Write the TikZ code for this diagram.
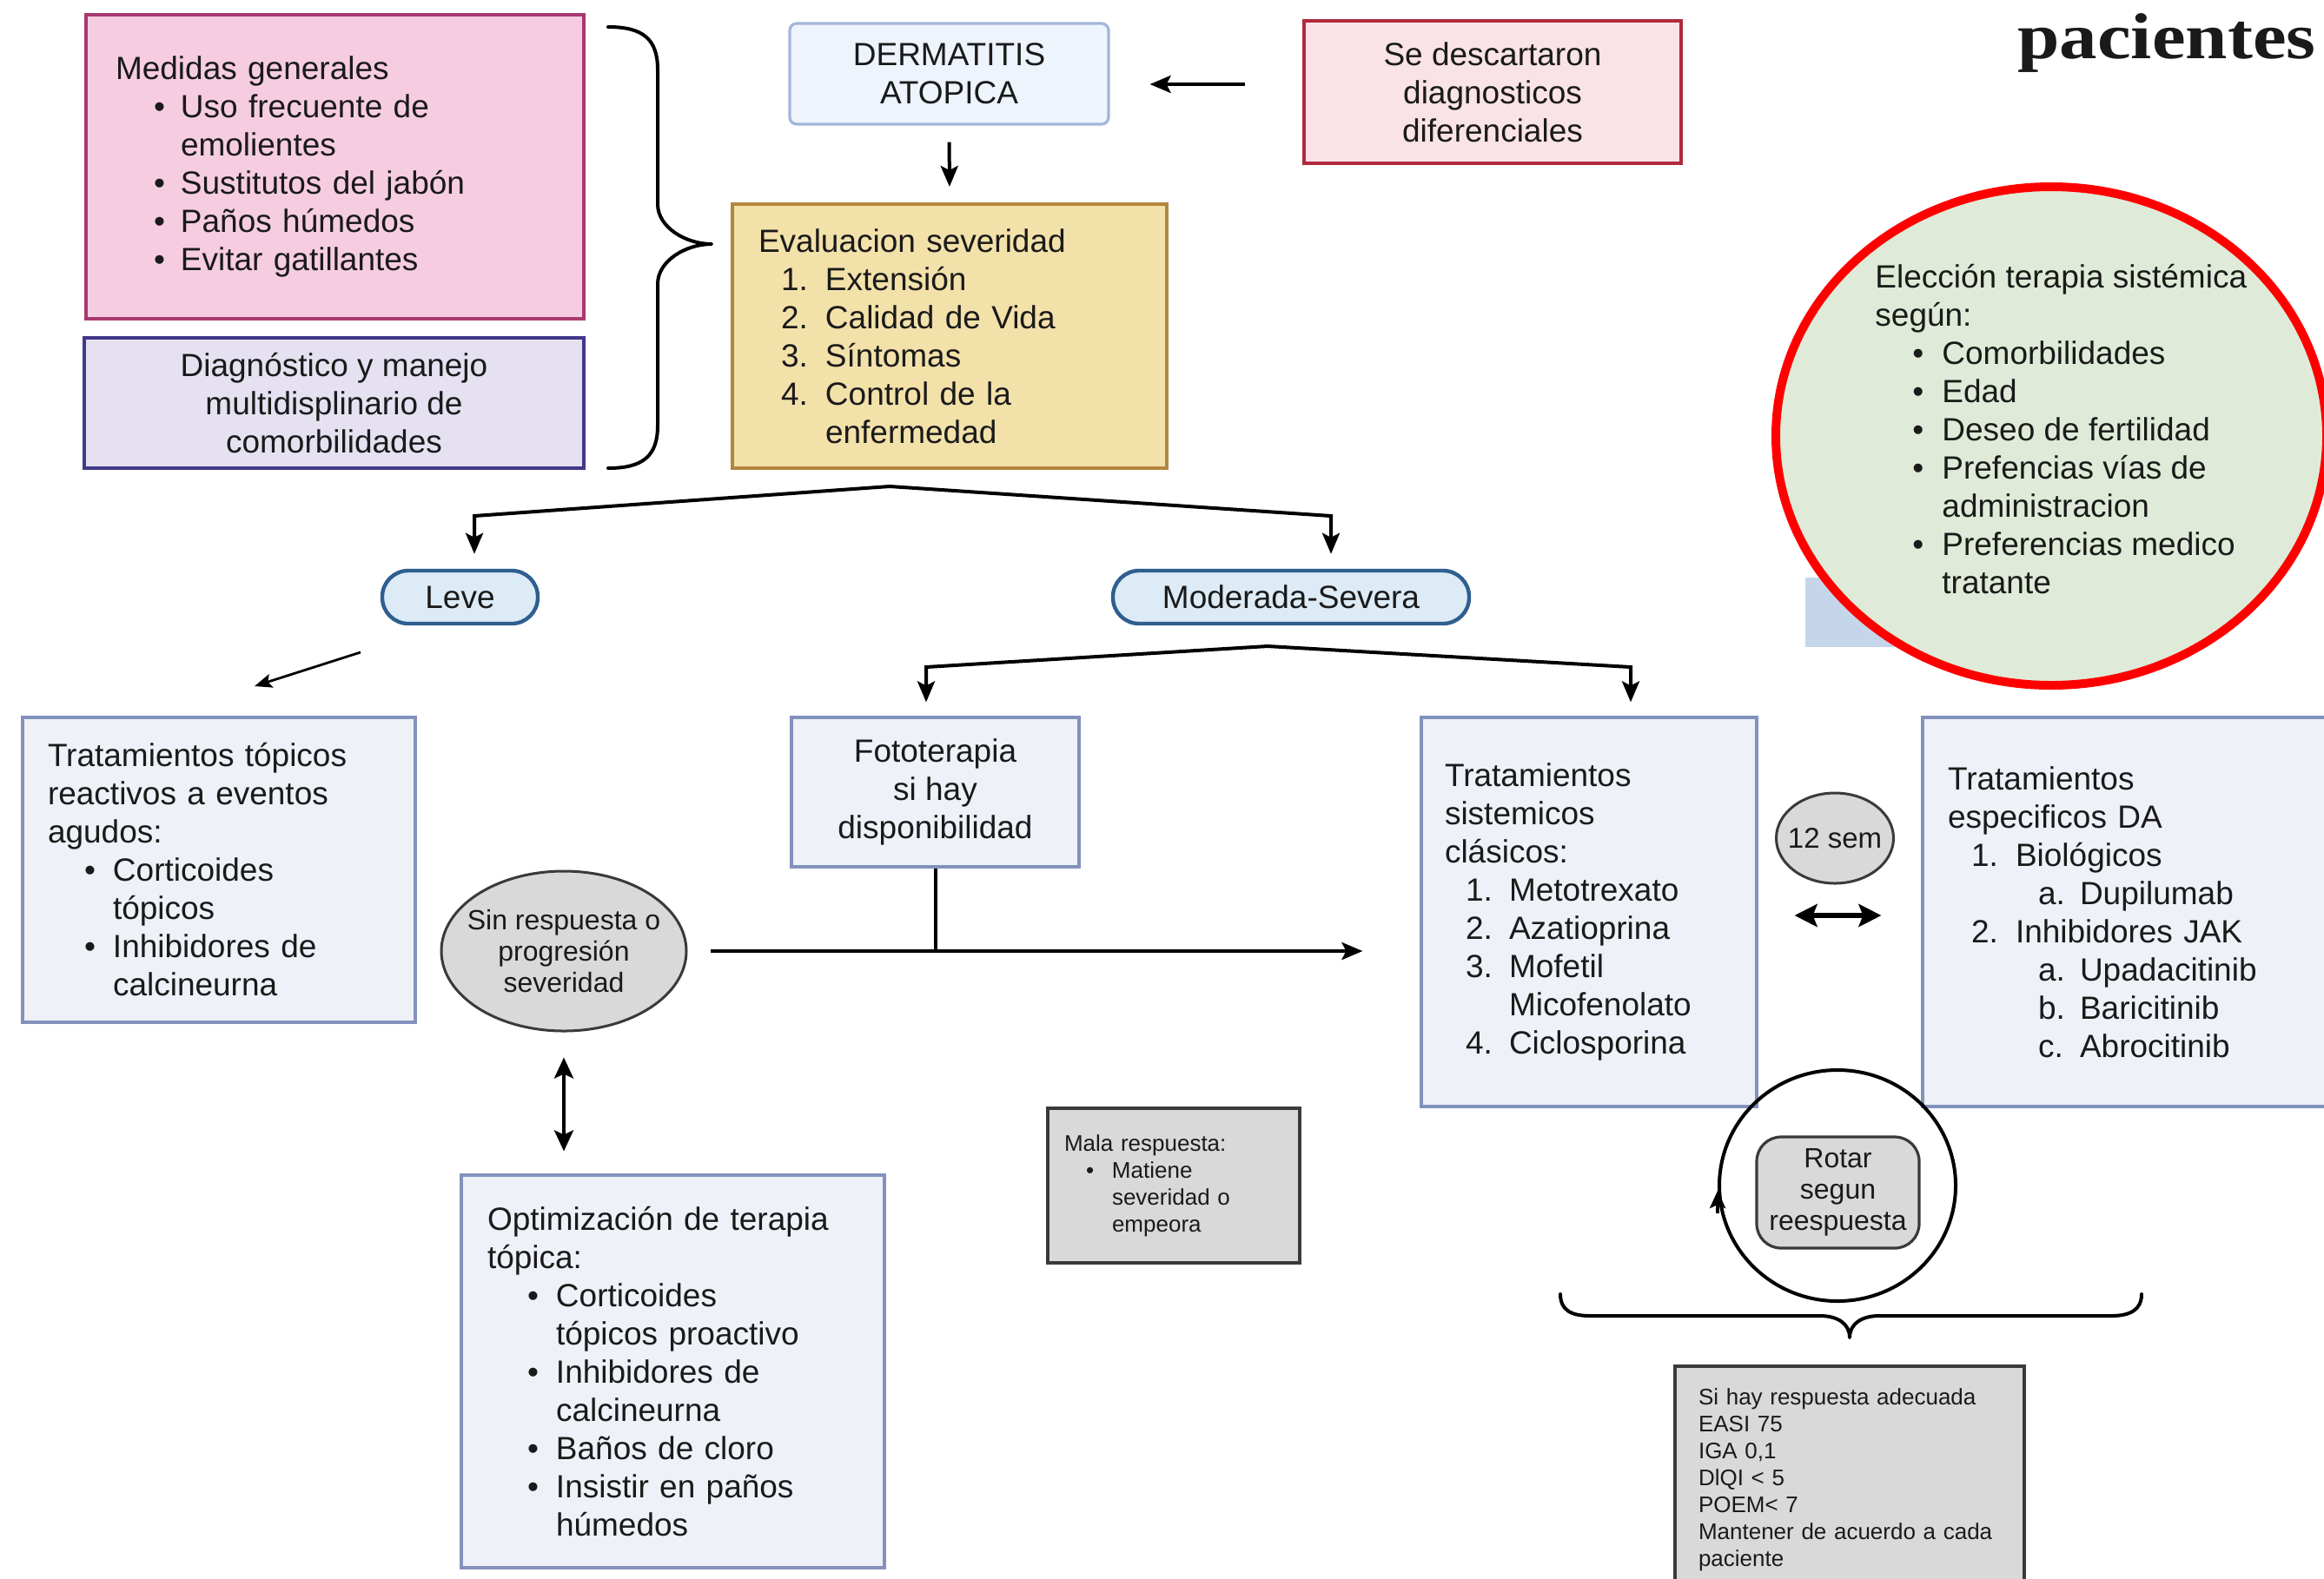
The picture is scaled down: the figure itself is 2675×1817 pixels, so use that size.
\documentclass[tikz,border=0pt]{standalone}
\usepackage{fontspec}
\setmainfont{Liberation Sans}
\newfontfamily\serifb{Liberation Serif}
\usetikzlibrary{arrows.meta,shapes.geometric}
\definecolor{txtc}{HTML}{1A1A1A}
\definecolor{pinkf}{HTML}{F6CDE0}
\definecolor{pinkd}{HTML}{A8396E}
\definecolor{lavf}{HTML}{E5E1F1}
\definecolor{lavd}{HTML}{40388A}
\definecolor{dermf}{HTML}{EEF4FB}
\definecolor{dermd}{HTML}{A3B6DA}
\definecolor{sedf}{HTML}{F9E3E6}
\definecolor{sedd}{HTML}{B02A3C}
\definecolor{evf}{HTML}{F3E1AA}
\definecolor{evd}{HTML}{B3863E}
\definecolor{pillf}{HTML}{DDEBF7}
\definecolor{pilld}{HTML}{2F5F8F}
\definecolor{bbf}{HTML}{EEF1F7}
\definecolor{bbd}{HTML}{8391BD}
\definecolor{grayf}{HTML}{D9D9D9}
\definecolor{grayd}{HTML}{3A3A3A}
\definecolor{greenf}{HTML}{DFEBD8}
\definecolor{hidc}{HTML}{C6D6EA}
\newcommand\itm[3]{\hspace*{#1}\makebox[#2][l]{#3}}
\begin{document}
\begin{tikzpicture}[x=0.5pt,y=-0.5pt,
  every node/.append style={font=\fontsize{18.5}{22}\selectfont, text=txtc},
  box/.style={draw, rectangle, line width=1.6pt, inner sep=0pt},
  bbox/.style={box, fill=bbf, draw=bbd},
  gbox/.style={box, fill=grayf, draw=grayd, line width=2pt},
  pill/.style={draw=pilld, fill=pillf, line width=2.2pt, rounded corners=15pt, minimum height=30.5pt, inner sep=0pt},
  ln/.style={draw=black, line width=2pt},
  arr/.style={ln, -{Stealth[length=12pt,width=10pt,inset=2.5pt]}},
  darr/.style={ln, {Stealth[length=12pt,width=11pt,inset=2.5pt]}-{Stealth[length=12pt,width=11pt,inset=2.5pt]}},
  brc/.style={draw=black, line width=2pt, line cap=round, line join=round}
]
\useasboundingbox (0,0) rectangle (2675,1817);
\clip (0,0) rectangle (2675,1817);
\fill[white] (0,0) rectangle (2675,1817);

% title fragment
\node[anchor=base west, inner sep=0pt, font=\serifb\bfseries\fontsize{43.5}{50}\selectfont] (pac) at (2322,67) {\scalebox{1}[0.86]{pacientes}};

% hidden box behind ellipse
\fill[hidc] (2078,665) rectangle (2420,745);

% eleccion ellipse
\node[ellipse, draw=red, fill=greenf, line width=5pt, minimum width=317pt, minimum height=287pt, inner sep=0pt] (elec) at (2361,502) {};
\node[anchor=west, align=left, inner sep=0pt] (electxt) at (2158,494) {Elección terapia sistémica\\según:\\
\itm{21.5pt}{17pt}{\textbullet}Comorbilidades\\
\itm{21.5pt}{17pt}{\textbullet}Edad\\
\itm{21.5pt}{17pt}{\textbullet}Deseo de fertilidad\\
\itm{21.5pt}{17pt}{\textbullet}Prefencias vías de\\
\hspace*{38.5pt}administracion\\
\itm{21.5pt}{17pt}{\textbullet}Preferencias medico\\
\hspace*{38.5pt}tratante};

% top-left boxes
\node[box, fill=pinkf, draw=pinkd, minimum width=286.5pt, minimum height=175pt, text width=252.5pt, align=left] (med) at (385.5,192) {Medidas generales\\
\itm{22pt}{15.5pt}{\textbullet}Uso frecuente de\\
\hspace*{37.5pt}emolientes\\
\itm{22pt}{15.5pt}{\textbullet}Sustitutos del jabón\\
\itm{22pt}{15.5pt}{\textbullet}Paños húmedos\\
\itm{22pt}{15.5pt}{\textbullet}Evitar gatillantes};
\node[box, fill=lavf, draw=lavd, line width=2pt, minimum width=287.5pt, minimum height=75pt, align=center] (diag) at (384.5,464) {Diagnóstico y manejo\\multidisplinario de\\comorbilidades};

% brace
\draw[brc] (700,31) .. controls (740,31) and (757,45) .. (757,80) -- (757,235)
  .. controls (757,262) and (790,281) .. (819,281)
  .. controls (790,281) and (757,300) .. (757,327) -- (757,490)
  .. controls (757,525) and (740,539) .. (700,539);

\node[box, rounded corners=4pt, fill=dermf, draw=dermd, minimum width=183.5pt, minimum height=58pt, align=center] (derm) at (1092.5,85) {DERMATITIS\\ATOPICA};
\node[box, fill=sedf, draw=sedd, line width=2.2pt, minimum width=217pt, minimum height=82pt, align=center] (sed) at (1718,106) {Se descartaron\\diagnosticos\\diferenciales};
\node[box, fill=evf, draw=evd, line width=2pt, minimum width=250pt, minimum height=152pt, text width=220pt, align=left] (eval) at (1093,387) {Evaluacion severidad\\
\itm{13pt}{25.5pt}{1.}Extensión\\
\itm{13pt}{25.5pt}{2.}Calidad de Vida\\
\itm{13pt}{25.5pt}{3.}Síntomas\\
\itm{13pt}{25.5pt}{4.}Control de la\\
\hspace*{38.5pt}enfermedad};

\coordinate (c1) at (1433,97);
\draw[arr, shorten >=23pt] (c1) -- (c1 -| derm.east);
\draw[arr, shorten <=9.5pt, shorten >=9pt] (derm.south) -- (eval.north);

\node[pill, minimum width=89.5pt] (leve) at (529.5,687.5) {Leve};
\node[pill, minimum width=205pt] (mod) at (1486,687.5) {Moderada-Severa};

\coordinate (ap1) at (1024,560);
\coordinate (bl1) at (546,594);
\coordinate (br1) at (1532,594);
\draw[arr, shorten >=8.5pt] (ap1) -- (bl1) -- (bl1 |- leve.north);
\draw[arr, shorten >=8.5pt] (ap1) -- (br1) -- (br1 |- mod.north);

\coordinate (la1) at (415,751);
\coordinate (la2) at (293,790);
\draw[line width=1.4pt, -{Stealth[length=10pt,width=8pt,inset=2pt]}] (la1) -- (la2);

\node[bbox, minimum width=226pt, minimum height=175.5pt, text width=197pt, align=left] (ttop) at (252,1001.5) {Tratamientos tópicos\\reactivos a eventos\\agudos:\\
\itm{21pt}{16.5pt}{\textbullet}Corticoides\\
\hspace*{37.5pt}tópicos\\
\itm{21pt}{16.5pt}{\textbullet}Inhibidores de\\
\hspace*{37.5pt}calcineurna};

\node[bbox, minimum width=165.5pt, minimum height=86pt, align=center] (foto) at (1076.5,912) {Fototerapia\\si hay\\disponibilidad};

\node[bbox, minimum width=193pt, minimum height=224pt, text width=166pt, align=left] (sist) at (1829,1050) {Tratamientos\\sistemicos\\clásicos:\\
\itm{12pt}{25pt}{1.}Metotrexato\\
\itm{12pt}{25pt}{2.}Azatioprina\\
\itm{12pt}{25pt}{3.}Mofetil\\
\hspace*{37pt}Micofenolato\\
\itm{12pt}{25pt}{4.}Ciclosporina};

\node[bbox, minimum width=243.5pt, minimum height=224pt, text width=214.5pt, align=left] (esp) at (2456.5,1050) {Tratamientos\\especificos DA\\
\itm{13.5pt}{25.5pt}{1.}Biológicos\\
\itm{52pt}{24pt}{a.}Dupilumab\\
\itm{13.5pt}{25.5pt}{2.}Inhibidores JAK\\
\itm{52pt}{24pt}{a.}Upadacitinib\\
\itm{52pt}{24pt}{b.}Baricitinib\\
\itm{52pt}{24pt}{c.}Abrocitinib};

\coordinate (ap2) at (1459,744);
\coordinate (bl2) at (1066,768);
\coordinate (br2) at (1877,768);
\draw[arr, shorten >=8pt] (ap2) -- (bl2) -- (bl2 |- foto.north);
\draw[arr, shorten >=8pt] (ap2) -- (br2) -- (br2 |- sist.north);

\node[ellipse, draw=grayd, fill=grayf, line width=1.5pt, minimum width=141pt, minimum height=92pt, inner sep=0pt] (sinr) at (649,1095) {};
\node[align=center, inner sep=0pt, font=\fontsize{16}{18}\selectfont] (sinrt) at (sinr.center) {Sin respuesta o\\progresión\\severidad};

\draw[ln] (foto.south) -- (foto.south |- sinr.east);
\draw[arr, shorten <=13pt, shorten >=33pt] (sinr.east) -- (sist.west |- sinr.east);

\node[bbox, minimum width=243.5pt, minimum height=226pt, text width=213.5pt, align=left] (opt) at (774.5,1579) {Optimización de terapia\\tópica:\\
\itm{23pt}{16.5pt}{\textbullet}Corticoides\\
\hspace*{39.5pt}tópicos proactivo\\
\itm{23pt}{16.5pt}{\textbullet}Inhibidores de\\
\hspace*{39.5pt}calcineurna\\
\itm{23pt}{16.5pt}{\textbullet}Baños de cloro\\
\itm{23pt}{16.5pt}{\textbullet}Insistir en paños\\
\hspace*{39.5pt}húmedos};
\draw[darr, shorten <=14.5pt, shorten >=13pt] (sinr.south) -- (sinr.south |- opt.north);

\node[gbox, minimum width=145pt, minimum height=89pt, text width=126pt, align=left, font=\fontsize{13}{15.5}\selectfont] (mala) at (1351,1365) {Mala respuesta:\\
\itm{12.5pt}{15pt}{\textbullet}Matiene\\
\hspace*{27.5pt}severidad o\\
\hspace*{27.5pt}empeora};

\node[ellipse, draw=grayd, fill=grayf, line width=1.5pt, minimum width=67.5pt, minimum height=52pt, inner sep=0pt] (sem) at (2112,965) {};
\node[inner sep=0pt, font=\fontsize{16.5}{19}\selectfont] (semt) at (sem.center) {12 sem};
\coordinate (c2) at (2100,1054);
\draw[ln, line width=2.6pt, {Stealth[length=13pt,width=13pt,inset=2.5pt]}-{Stealth[length=13pt,width=13pt,inset=2.5pt]}, shorten <=21pt, shorten >=23pt] (c2 -| sist.east) -- (c2 -| esp.west);

\node[ellipse, draw=black, line width=2pt, minimum width=136pt, minimum height=133pt, inner sep=0pt] (loop) at (2115,1365) {};
\draw[line width=2pt, -{Stealth[length=10pt,width=9pt,inset=2pt]}] ([yshift=-16pt]loop.west) -- ([yshift=-3pt]loop.west);
\node[gbox, line width=1.6pt, rounded corners=14pt, minimum width=93.5pt, minimum height=64pt, align=center, font=\fontsize{16}{18}\selectfont] (rot) at (2115.5,1373) {Rotar\\segun\\reespuesta};

\draw[brc] (1796,1490) .. controls (1796,1508) and (1808,1515) .. (1830,1515) -- (2095,1515)
  .. controls (2115,1515) and (2129,1524) .. (2129,1540)
  .. controls (2129,1524) and (2143,1515) .. (2163,1515) -- (2430,1515)
  .. controls (2452,1515) and (2465,1508) .. (2465,1490);

\node[gbox, minimum width=201pt, minimum height=131pt, text width=174pt, align=left, font=\fontsize{13}{15.5}\selectfont] (si) at (2129,1704) {Si hay respuesta adecuada\\EASI 75\\IGA 0,1\\DlQI < 5\\POEM< 7\\Mantener de acuerdo a cada\\paciente};
\end{tikzpicture}
\end{document}
